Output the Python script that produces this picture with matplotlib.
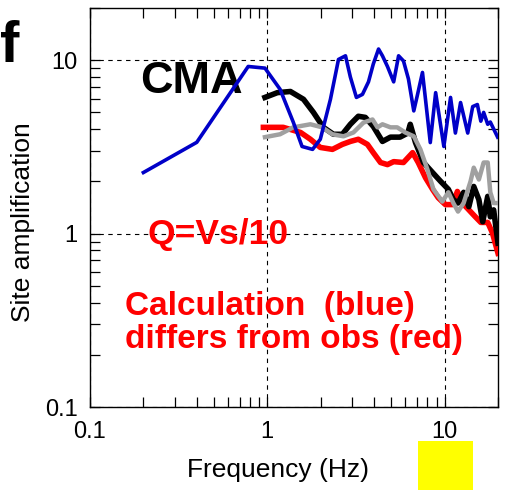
import numpy as np
import matplotlib.pyplot as plt
from matplotlib.patches import Rectangle
from matplotlib.ticker import LogLocator, FixedLocator, NullFormatter

plt.rcParams['font.family'] = ['Liberation Sans', 'DejaVu Sans']

# calculated amplification (blue)
f_blue = [0.2, 0.4, 0.78, 0.97, 1.18, 1.4, 1.57, 1.8, 1.99, 2.27, 2.52, 2.76, 2.94,
          3.18, 3.44, 3.72, 3.96, 4.24, 4.46, 4.76, 5.16, 5.5, 5.86, 6.25, 6.7, 7.0,
          7.5, 7.8, 8.3, 8.9, 9.2, 9.9, 10.8, 11.5, 12.3, 13.5, 14.4, 15.3, 16.0,
          16.6, 17.5, 18.1, 19.9]
a_blue = [2.25, 3.36, 9.2, 9.0, 6.8, 4.4, 3.18, 3.06, 3.5, 5.95, 10.1, 10.6, 8.0,
          6.1, 6.35, 7.5, 9.5, 11.6, 10.6, 9.2, 7.5, 10.6, 9.9, 7.8, 5.1, 6.2,
          8.5, 5.95, 3.35, 6.5, 5.2, 3.18, 6.1, 3.8, 5.7, 3.8, 5.4, 5.55, 4.45,
          5.0, 4.27, 4.4, 3.6]

# observed (black)
f_black = [0.97, 1.14, 1.35, 1.6, 1.82, 2.07, 2.36, 2.65, 2.94, 3.26, 3.57, 3.96,
           4.46, 4.95, 5.6, 6.2, 6.4, 6.85, 7.6, 8.55, 9.5, 10.5, 11.2, 11.9, 12.8,
           13.7, 14.6, 15.6, 16.4, 17.5, 18.1, 18.9, 20.0]
a_black = [6.1, 6.5, 6.6, 5.95, 5.0, 4.1, 3.74, 3.74, 4.27, 4.75, 4.68, 4.15,
           3.4, 3.6, 3.6, 3.8, 4.27, 3.35, 2.57, 2.25, 2.0, 1.8, 1.57, 1.5, 1.73,
           1.43, 1.87, 1.57, 1.17, 1.64, 1.25, 1.37, 0.88]

# second observation (gray)
f_gray = [0.97, 1.18, 1.4, 1.75, 2.04, 2.33, 2.69, 3.06, 3.49, 3.92, 4.18, 4.46,
          4.95, 5.4, 6.0, 6.7, 7.3, 8.0, 8.65, 9.7, 10.5, 11.2, 11.9, 12.8, 14.0,
          14.6, 15.6, 16.6, 17.5, 18.1, 18.9, 20.0]
a_gray = [3.6, 3.74, 4.1, 4.27, 4.1, 3.74, 3.64, 3.83, 4.37, 4.55, 4.1, 4.27,
          4.1, 4.1, 3.83, 3.64, 3.06, 2.34, 1.8, 1.53, 1.73, 1.5, 1.34, 1.5, 2.0,
          2.4, 2.05, 2.57, 2.57, 1.73, 1.5, 1.5]

# Q = Vs/10 (red)
f_red = [0.95, 1.23, 1.54, 1.75, 1.99, 2.33, 2.65, 2.94, 3.26, 3.67, 3.96, 4.35,
         4.76, 5.16, 5.86, 6.6, 7.1, 7.8, 8.55, 9.2, 10.1, 11.1, 11.8, 12.6, 13.7,
         14.9, 16.0, 17.5, 18.6, 20.0]
a_red = [4.1, 4.1, 3.83, 3.5, 3.14, 3.06, 3.27, 3.4, 3.5, 3.27, 2.93, 2.57,
         2.5, 2.6, 2.57, 2.93, 2.57, 2.1, 1.8, 1.61, 1.47, 1.47, 1.75, 1.5, 1.37,
         1.25, 1.16, 1.16, 1.01, 0.77]

major_ticks = [0.1, 1, 10]
tick_labels = ['0.1', '1', '10']

fig = plt.figure(figsize=(5.1, 4.9), dpi=100)
ax = fig.add_axes([90 / 510, 1 - 407 / 490, 408 / 510, 399 / 490])

ax.plot(f_red, a_red, color='#ff0000', lw=4.0, solid_joinstyle='round', zorder=3)
ax.plot(f_black, a_black, color='black', lw=4.0, solid_joinstyle='round', zorder=4)
ax.plot(f_gray, a_gray, color='#a0a0a0', lw=3.2, solid_joinstyle='round', zorder=5)
ax.plot(f_blue, a_blue, color='#0000c8', lw=2.6, solid_joinstyle='round', zorder=6)

ax.set_xscale('log')
ax.set_yscale('log')
ax.set_xlim(0.1, 20)
ax.set_ylim(0.1, 20)

for axis in (ax.xaxis, ax.yaxis):
    axis.set_major_locator(FixedLocator(major_ticks))
    axis.set_minor_locator(LogLocator(base=10, subs=np.arange(2, 10)))
    axis.set_minor_formatter(NullFormatter())
ax.set_xticklabels(tick_labels)
ax.set_yticklabels(tick_labels)
ax.tick_params(which='both', direction='in', top=True, right=True,
               length=7, width=0.9, labelsize=17)
ax.tick_params(axis='x', pad=10)
ax.tick_params(axis='y', pad=9)
ax.grid(True, which='major', color='black', ls=(0, (4, 4)), lw=0.8)
for s in ax.spines.values():
    s.set_linewidth(1.0)

# annotations
ax.text(0.123, 0.787, 'CMA', transform=ax.transAxes, fontsize=32.5,
        fontweight='bold', color='black', va='baseline', ha='left')
ax.text(0.140, 0.409, 'Q=Vs/10', transform=ax.transAxes, fontsize=25.5,
        fontweight='bold', color='#ff0000', va='baseline', ha='left')
ax.text(0.086, 0.231, 'Calculation  (blue)', transform=ax.transAxes, fontsize=24,
        fontweight='bold', color='#ff0000', va='baseline', ha='left')
ax.text(0.086, 0.148, 'differs from obs (red)', transform=ax.transAxes, fontsize=24,
        fontweight='bold', color='#ff0000', va='baseline', ha='left')

fig.text(23 / 510, 1 - 222 / 490, 'Site amplification', rotation=90,
         ha='center', va='center', fontsize=19)
fig.text(278 / 510, 1 - 470 / 490, 'Frequency (Hz)',
         ha='center', va='center', fontsize=19)
fig.text(0.0, 1 - 62 / 490, 'f', fontsize=42, fontweight='bold',
         ha='left', va='baseline')

# yellow box in the lower right corner
fig.patches.append(Rectangle((418 / 510, 0), 55 / 510, 49 / 490,
                             transform=fig.transFigure, facecolor='#ffff00',
                             edgecolor='none', zorder=10))

fig.savefig('out.png', dpi=100)
